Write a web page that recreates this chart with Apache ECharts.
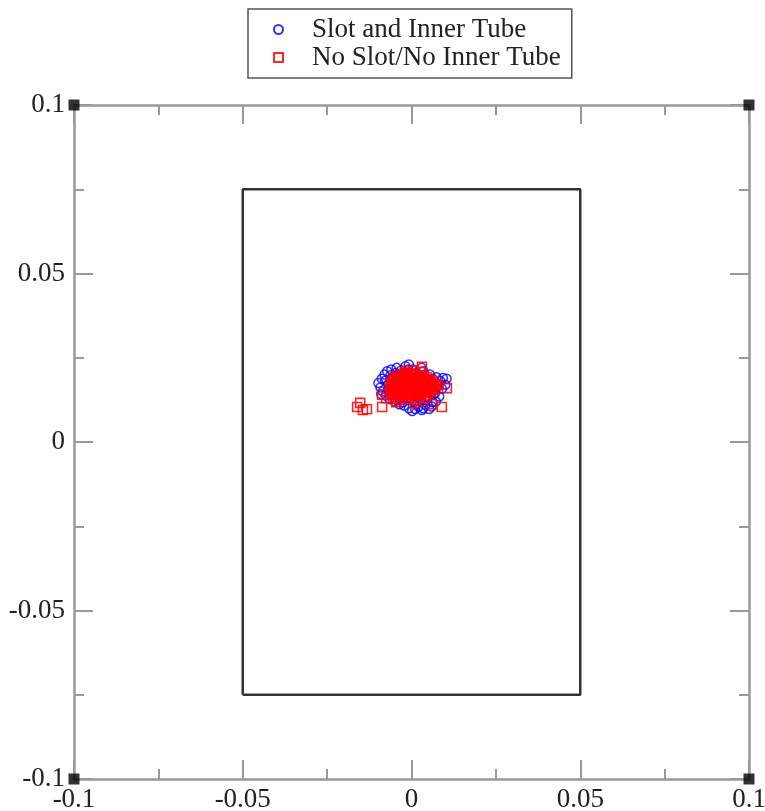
<!DOCTYPE html>
<html>
<head>
<meta charset="utf-8">
<script src="https://cdn.jsdelivr.net/npm/echarts@6/dist/echarts.min.js"></script>
<style>
  html, body { margin: 0; padding: 0; background: #fff; }
  #chart { width: 765px; height: 811px; }
</style>
</head>
<body>
<div id="chart"></div>
<script>
var seriesNames = ['Slot and Inner Tube', 'No Slot/No Inner Tube'];

// blue circles
var slotPoints = [
  [-0.0098,0.0175],[-0.0092,0.0162],[-0.0088,0.0188],[-0.0085,0.0150],[-0.0080,0.0200],
  [-0.0076,0.0138],[-0.0072,0.0210],[-0.0068,0.0172],[-0.0065,0.0128],[-0.0060,0.0215],
  [-0.0058,0.0190],[-0.0055,0.0155],[-0.0050,0.0120],[-0.0047,0.0205],[-0.0044,0.0220],
  [-0.0040,0.0140],[-0.0036,0.0112],[-0.0033,0.0182],[-0.0030,0.0213],[-0.0026,0.0160],
  [-0.0022,0.0108],[-0.0018,0.0225],[-0.0015,0.0195],[-0.0012,0.0130],[-0.0008,0.0100],
  [-0.0008,0.0230],[-0.0002,0.0170],[0.0002,0.0092],[0.0005,0.0215],[0.0008,0.0118],
  [0.0011,0.0098],[0.0014,0.0205],[0.0018,0.0142],[0.0021,0.0105],[0.0024,0.0198],
  [0.0028,0.0125],[0.0031,0.0095],[0.0035,0.0210],[0.0038,0.0150],[0.0041,0.0110],
  [0.0045,0.0190],[0.0048,0.0132],[0.0052,0.0098],[0.0055,0.0200],[0.0058,0.0160],
  [0.0062,0.0118],[0.0066,0.0185],[0.0070,0.0145],[0.0074,0.0192],[0.0078,0.0168],
  [0.0082,0.0135],[0.0086,0.0180],[0.0090,0.0158],[0.0093,0.0190],[0.0100,0.0170],
  [0.0104,0.0188],[-0.0070,0.0155],[-0.0045,0.0175],[-0.0020,0.0145],[0.0000,0.0128],
  [0.0025,0.0175],[0.0050,0.0165],[0.0065,0.0140],[-0.0035,0.0128],[0.0015,0.0112],
  [0.0040,0.0125],[-0.0078,0.0182],[-0.0062,0.0198],[0.0030,0.0220],[-0.0010,0.0215],
  [0.0060,0.0105],[0.0035,0.0100],[-0.0025,0.0118],[0.0072,0.0120],[-0.0090,0.0142]
];

// red squares
var noSlotPoints = [
  [-0.0065,0.0165],[-0.0062,0.0150],[-0.0060,0.0178],[-0.0057,0.0140],[-0.0055,0.0190],
  [-0.0052,0.0158],[-0.0050,0.0170],[-0.0048,0.0132],[-0.0046,0.0185],[-0.0044,0.0150],
  [-0.0042,0.0198],[-0.0040,0.0162],[-0.0038,0.0175],[-0.0036,0.0140],[-0.0034,0.0188],
  [-0.0032,0.0155],[-0.0030,0.0168],[-0.0028,0.0200],[-0.0026,0.0145],[-0.0024,0.0180],
  [-0.0022,0.0160],[-0.0020,0.0192],[-0.0018,0.0135],[-0.0016,0.0172],[-0.0014,0.0205],
  [-0.0012,0.0152],[-0.0010,0.0185],[-0.0008,0.0165],[-0.0006,0.0140],[-0.0004,0.0198],
  [-0.0002,0.0175],[0.0000,0.0158],[0.0002,0.0190],[0.0004,0.0168],[0.0006,0.0145],
  [0.0008,0.0202],[0.0010,0.0180],[0.0012,0.0160],[0.0014,0.0138],[0.0016,0.0192],
  [0.0018,0.0170],[0.0020,0.0152],[0.0022,0.0185],[0.0024,0.0165],[0.0026,0.0142],
  [0.0028,0.0198],[0.0030,0.0175],[0.0032,0.0158],[0.0034,0.0188],[0.0036,0.0148],
  [0.0038,0.0170],[0.0040,0.0182],[0.0042,0.0155],[0.0044,0.0165],[0.0046,0.0192],
  [0.0048,0.0145],[0.0050,0.0175],[0.0052,0.0160],[0.0055,0.0185],[0.0058,0.0150],
  [0.0060,0.0170],[0.0063,0.0162],[0.0066,0.0178],[0.0070,0.0158],[0.0073,0.0168],
  [-0.0035,0.0125],[-0.0010,0.0128],[0.0015,0.0122],[0.0040,0.0130],[0.0005,0.0212],
  [-0.0020,0.0210],[0.0025,0.0208],[-0.0055,0.0128],[0.0045,0.0138],[0.0020,0.0130],
  [-0.0045,0.0118],[0.0010,0.0115],[-0.0015,0.0160],[0.0000,0.0180],[0.0030,0.0150],
  [-0.0030,0.0180],[0.0010,0.0170],[-0.0050,0.0145],[0.0055,0.0168],[-0.0025,0.0170],
  [-0.0058,0.0172],[-0.0053,0.0182],[-0.0047,0.0162],[-0.0043,0.0140],[-0.0039,0.0190],
  [-0.0037,0.0152],[-0.0033,0.0172],[-0.0029,0.0138],[-0.0027,0.0190],[-0.0023,0.0150],
  [-0.0019,0.0178],[-0.0017,0.0198],[-0.0013,0.0142],[-0.0011,0.0168],[-0.0007,0.0190],
  [-0.0005,0.0150],[-0.0001,0.0202],[0.0001,0.0165],[0.0003,0.0140],[0.0007,0.0185],
  [0.0009,0.0155],[0.0013,0.0198],[0.0015,0.0175],[0.0017,0.0148],[0.0019,0.0190],
  [0.0021,0.0162],[0.0023,0.0140],[0.0027,0.0182],[0.0029,0.0160],[0.0033,0.0170],
  [0.0035,0.0195],[0.0037,0.0160],[0.0041,0.0148],[0.0043,0.0178],[0.0047,0.0170],
  [0.0049,0.0185],[0.0053,0.0150],[0.0057,0.0175],[0.0062,0.0155],[0.0068,0.0170],
  [-0.0161,0.0104],[-0.0152,0.0116],[-0.0144,0.0095],[-0.0132,0.0097],[-0.0087,0.0104],
  [-0.0087,0.0140],[0.0090,0.0104],[0.0105,0.0160],[0.0031,0.0223],[0.0060,0.0112],
  [-0.0075,0.0130],[0.0080,0.0170]
];

var cornerPoints = [[-0.1,0.1],[0.1,0.1],[-0.1,-0.1],[0.1,-0.1]];
var boxOutline = [[-0.05,-0.075],[0.05,-0.075],[0.05,0.075],[-0.05,0.075],[-0.05,-0.075]];

var serif = 'Liberation Serif';
var axisGray = '#999';

function makeAxis(pos, showLabel, margin) {
  return {
    type: 'value',
    position: pos,
    min: -0.1,
    max: 0.1,
    interval: 0.05,
    axisLine: { show: true, onZero: false, lineStyle: { color: axisGray, width: 2.5 } },
    axisTick: { show: true, inside: true, length: 19, lineStyle: { color: axisGray, width: 2 } },
    minorTick: { show: true, splitNumber: 2, length: 10, lineStyle: { color: axisGray, width: 2 } },
    splitLine: { show: false },
    axisLabel: {
      show: showLabel,
      fontFamily: serif,
      fontSize: 27,
      color: '#222',
      margin: margin
    }
  };
}

var myChart = echarts.init(document.getElementById('chart'));
myChart.setOption({
  backgroundColor: '#fff',
  animation: false,
  grid: { left: 74, right: 16, top: 105, bottom: 32, containLabel: false, outerBoundsMode: 'none' },
  legend: {
    data: seriesNames,
    orient: 'vertical',
    left: 248,
    top: 9,
    padding: [7, 11, 7, 25],
    itemGap: 1,
    itemWidth: 9,
    itemHeight: 9,
    borderColor: '#555',
    borderWidth: 1.5,
    textStyle: { fontFamily: serif, fontSize: 27, color: '#222', padding: [0, 0, 0, 24] }
  },
  xAxis: [makeAxis('bottom', true, 7), makeAxis('top', false, 8)],
  yAxis: [makeAxis('left', true, 9), makeAxis('right', false, 8)],
  series: [
    {
      type: 'line',
      data: boxOutline,
      symbol: 'none',
      silent: true,
      lineStyle: { color: '#333', width: 2.5 },
      z: 1
    },
    {
      name: seriesNames[0],
      type: 'scatter',
      data: slotPoints,
      symbol: 'circle',
      symbolSize: 9,
      itemStyle: { color: 'rgba(0,0,0,0)', borderColor: '#0000ff', borderWidth: 1.5, opacity: 0.8 },
      z: 3
    },
    {
      name: seriesNames[1],
      type: 'scatter',
      data: noSlotPoints,
      symbol: 'rect',
      symbolSize: 9,
      itemStyle: { color: 'rgba(0,0,0,0)', borderColor: '#ff0000', borderWidth: 1.6, opacity: 0.85 },
      z: 4
    },
    {
      type: 'scatter',
      data: cornerPoints,
      symbol: 'rect',
      symbolSize: 11,
      clip: false,
      silent: true,
      itemStyle: { color: '#000' },
      z: 10
    }
  ]
});
</script>
</body>
</html>
